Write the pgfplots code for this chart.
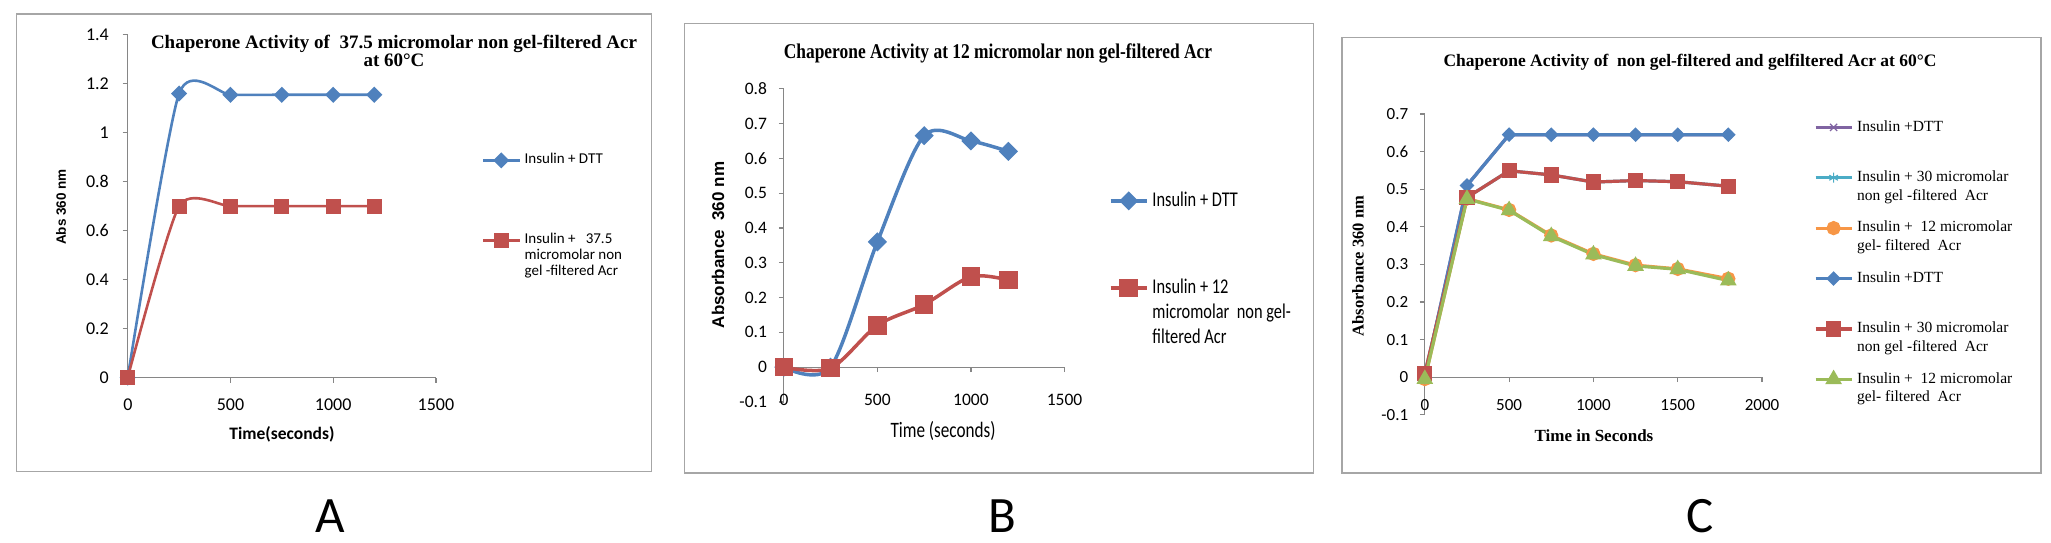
\documentclass[border=0pt]{standalone}
\usepackage{fontspec}
\setmainfont{Liberation Serif}
\newfontfamily\carl{Carlito}
\newfontfamily\carlN[FakeStretch=0.78]{Carlito}
\newfontfamily\lsans{Liberation Sans}
\newfontfamily\serifN[FakeStretch=0.83]{Liberation Serif}
\usepackage{pgfplots}
\pgfplotsset{compat=1.18}
\definecolor{cblue}{HTML}{4F81BD}
\definecolor{cred}{HTML}{C0504D}
\definecolor{cgreen}{HTML}{9BBB59}
\definecolor{cpurple}{HTML}{8064A2}
\definecolor{ccyan}{HTML}{4BACC6}
\definecolor{corange}{HTML}{F79646}
\definecolor{axgray}{HTML}{868686}
\definecolor{framegray}{HTML}{A6A6A6}
\newcommand{\fs}[2]{\fontsize{#1}{#2}\selectfont}
\newcommand{\lone}[1]{\hbox{\strut#1}}
\newcommand{\ltwo}[2]{\vtop{\hbox{\strut#1}\hbox{\strut#2}}}
\newcommand{\lthree}[3]{\vtop{\hbox{\strut#1}\hbox{\strut#2}\hbox{\strut#3}}}
\pgfplotsset{
  excel/.style={
    scale only axis,
    axis y line=left,
    axis x line=middle,
    axis line style={draw=axgray, line width=1.2pt, -},
    every inner x axis line/.append style={-},
    every outer y axis line/.append style={-},
    tick style={draw=axgray, line width=1.2pt},
    major tick length=5pt,
    tick align=outside,
    /pgf/number format/assume math mode=true,
    scaled ticks=false,
    clip=false,
    every tick label/.append style={inner sep=0pt},
    legend cell align=left,
    legend image code/.code={\draw[mark repeat=2,mark phase=2] plot coordinates {(0pt,0pt) (18pt,0pt) (36pt,0pt)};},
    legend style={draw=none, fill=none, inner sep=0pt, outer sep=0pt,
      column sep=4pt, anchor=north west},
  }
}
\begin{document}
\begin{tikzpicture}[x=1pt,y=1pt]
\path[use as bounding box] (0,0) rectangle (2051,543);
% frames
\draw[framegray, line width=1.5] (16.6,71.5) rectangle (651.7,529.1);
\draw[framegray, line width=1.5] (684.4,70) rectangle (1313.5,519.3);
\draw[framegray, line width=1.5] (1341.8,70) rectangle (2041,505.4);

% ---------------- Panel A ----------------
\begin{axis}[excel, at={(127.7pt,165.4pt)}, anchor=south west,
  width=308.2pt, height=342.8pt,
  xmin=0, xmax=1500, ymin=0, ymax=1.4,
  xtick={1,500,1000,1500}, xticklabels={0,500,1000,1500},
  ytick={0,0.2,0.4,0.6,0.8,1,1.2,1.4}, yticklabels={0,0.2,0.4,0.6,0.8,1,1.2,1.4},
  ticklabel style={font=\carl\fs{18}{20}},
  xticklabel style={yshift=-16pt},
  yticklabel style={xshift=-13.7pt},
  legend style={at={(1.1496,0.657)}, font=\carl\fs{15}{16}, row sep=64pt,
    nodes={inner sep=0pt, text height=11.2pt, text depth=4.8pt}},
]
\addplot[cblue, line width=2.6pt, smooth, tension=0.38, mark=square*, mark size=4.4pt, mark options={rotate=45}]
  coordinates {(0,0) (250,1.16) (500,1.155) (750,1.155) (1000,1.155) (1200,1.155)};
\addlegendentry{\lone{Insulin + DTT}}
\addplot[cred, line width=2.6pt, smooth, tension=0.38, mark=square*, mark size=6.2pt]
  coordinates {(0,0) (250,0.70) (500,0.70) (750,0.70) (1000,0.70) (1200,0.70)};
\addlegendentry{\lthree{Insulin +\ \ \ 37.5}{micromolar non}{gel -filtered Acr}}
\end{axis}
\node[anchor=base, font=\bfseries\fs{19}{21}] at (394,494.3) {Chaperone Activity of\ \ 37.5 micromolar non gel-filtered Acr};
\node[anchor=base, font=\bfseries\fs{19}{21}] at (394,476.2) {at 60°C};
\node[rotate=90, font=\lsans\bfseries\fs{13.5}{15}] at (61,336) {Abs 360 nm};
\node[anchor=base, font=\carl\bfseries\fs{17.5}{19}] at (282,103) {Time(seconds)};
\node[anchor=base, font=\carl\fs{51}{55}] at (330,10.6) {A};

% ---------------- Panel B ----------------
\begin{axis}[excel, at={(783.8pt,141pt)}, anchor=south west,
  width=280.7pt, height=313.3pt,
  xmin=0, xmax=1500, ymin=-0.1, ymax=0.8,
  xtick={1,500,1000,1500}, xticklabels={0,500,1000,1500},
  ytick={-0.1,0,0.1,0.2,0.3,0.4,0.5,0.6,0.7,0.8}, yticklabels={-0.1,0,0.1,0.2,0.3,0.4,0.5,0.6,0.7,0.8},
  ticklabel style={font=\carl\fs{17.5}{20}},
  xticklabel style={yshift=-22pt},
  yticklabel style={xshift=-11.6pt},
  legend style={at={(1.1585,0.6824)}, font=\carlN\fs{21}{25.4}, row sep=61.6pt,
    nodes={inner sep=0pt, text height=17.8pt, text depth=7.6pt}},
]
\addplot[cblue, line width=3.5pt, smooth, mark=square*, mark size=5pt, mark options={rotate=45}]
  coordinates {(0,0) (250,0) (500,0.36) (750,0.665) (1000,0.65) (1200,0.62)};
\addlegendentry{\lone{Insulin + DTT}}
\addplot[cred, line width=3.5pt, smooth, mark=square*, mark size=7.5pt]
  coordinates {(0,0) (250,-0.003) (500,0.12) (750,0.18) (1000,0.26) (1200,0.25)};
\addlegendentry{\lthree{Insulin + 12}{micromolar\ \ non gel-}{filtered Acr}}
\end{axis}
\node[anchor=base, font=\serifN\bfseries\fs{21}{23}] at (998,484.5) {Chaperone Activity at 12 micromolar non gel-filtered Acr};
\node[rotate=90, font=\lsans\bfseries\fs{17}{19}] at (718,298) {Absorbance\ \ 360 nm};
\node[anchor=base, font=\carlN\fs{22}{24}] at (943,105) {Time (seconds)};
\node[anchor=base, font=\carl\fs{51}{55}] at (1002.6,10.6) {B};

% ---------------- Panel C ----------------
\begin{axis}[excel, at={(1424.8pt,128.2pt)}, anchor=south west,
  width=337.2pt, height=300.8pt,
  xmin=0, xmax=2000, ymin=-0.1, ymax=0.7,
  xtick={1,500,1000,1500,2000}, xticklabels={0,500,1000,1500,2000},
  ytick={-0.1,0,0.1,0.2,0.3,0.4,0.5,0.6,0.7}, yticklabels={-0.1,0,0.1,0.2,0.3,0.4,0.5,0.6,0.7},
  ticklabel style={font=\carl\fs{17}{19}},
  xticklabel style={yshift=-17pt},
  yticklabel style={xshift=-11.4pt},
  legend style={at={(1.1542,0.987)}, font=\fs{15.5}{18.8}, row sep=31.6pt,
    nodes={inner sep=0pt, text height=13.2pt, text depth=5.6pt}},
]
\addplot[cpurple, line width=3.2pt, mark=x, mark size=5pt, mark options={line width=1.2pt}]
  coordinates {(0,0) (250,0.51) (500,0.645) (750,0.645) (1000,0.645) (1250,0.645) (1500,0.645) (1800,0.645)};
\addlegendentry{\ltwo{Insulin +DTT}{}}
\addplot[ccyan, line width=3.2pt, mark=asterisk, mark size=5pt, mark options={line width=1.2pt}]
  coordinates {(0,0.01) (250,0.478) (500,0.549) (750,0.538) (1000,0.519) (1250,0.523) (1500,0.52) (1800,0.508)};
\addlegendentry{\ltwo{Insulin + 30 micromolar}{non gel -filtered\ \ Acr}}
\addplot[corange, line width=3.2pt, mark=*, mark size=5.5pt]
  coordinates {(0,-0.005) (250,0.475) (500,0.445) (750,0.377) (1000,0.328) (1250,0.298) (1500,0.288) (1800,0.262)};
\addlegendentry{\ltwo{Insulin +\ \ 12 micromolar}{gel- filtered\ \ Acr}}
\addplot[cblue, line width=3.2pt, mark=square*, mark size=3.6pt, mark options={rotate=45}]
  coordinates {(0,0) (250,0.51) (500,0.645) (750,0.645) (1000,0.645) (1250,0.645) (1500,0.645) (1800,0.645)};
\addlegendentry{\ltwo{Insulin +DTT}{}}
\addplot[cred, line width=3.2pt, mark=square*, mark size=6pt]
  coordinates {(0,0.01) (250,0.478) (500,0.549) (750,0.538) (1000,0.519) (1250,0.523) (1500,0.52) (1800,0.508)};
\addlegendentry{\ltwo{Insulin + 30 micromolar}{non gel -filtered\ \ Acr}}
\addplot[cgreen, line width=3.2pt, mark=triangle*, mark size=6.5pt]
  coordinates {(0,-0.005) (250,0.474) (500,0.444) (750,0.375) (1000,0.326) (1250,0.296) (1500,0.287) (1800,0.257)};
\addlegendentry{\ltwo{Insulin +\ \ 12 micromolar}{gel- filtered\ \ Acr}}
\end{axis}
\node[anchor=base, font=\bfseries\fs{17.5}{19}] at (1690,476.2) {Chaperone Activity of\ \ non gel-filtered and gelfiltered Acr at 60°C};
\node[rotate=90, font=\bfseries\fs{16.5}{18}] at (1358,277) {Absorbance 360 nm};
\node[anchor=base, font=\bfseries\fs{17}{19}] at (1594,101) {Time in Seconds};
\node[anchor=base, font=\carl\fs{51}{55}] at (1700,10.6) {C};
\end{tikzpicture}
\end{document}
